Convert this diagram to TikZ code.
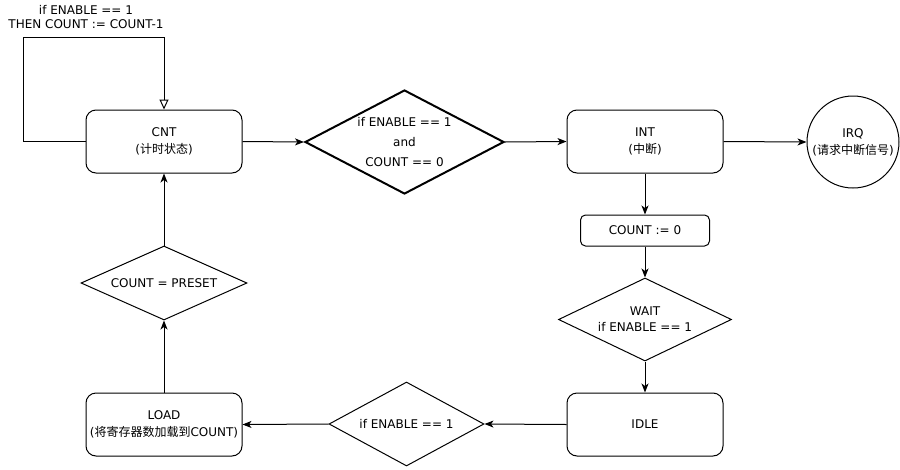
\documentclass[tikz,border=0pt]{standalone}
\usepackage{fontspec}
\setmainfont{DejaVu Sans}
\newfontfamily\cjk{Noto Sans CJK SC}
\usetikzlibrary{shapes.geometric,arrows.meta}
\begin{document}
\begin{tikzpicture}[x=1pt,y=-1pt,
  every node/.style={font=\fontsize{12}{17}\selectfont, text=black},
  state/.style={draw, rounded corners=10pt, minimum width=156pt, minimum height=63pt, align=center, fill=white, line width=1pt},
  cond/.style={draw, diamond, inner sep=0pt, fill=white, line width=1pt},
  flow/.style={draw, line width=1pt, -{Stealth[length=9pt,width=7pt,inset=2.5pt]}},
]
\useasboundingbox[fill=white] (0,0) rectangle (900,469);

% nodes
\node[state] (cnt) at (164,141.5) {CNT\\({\cjk 计时状态})};
\node[cond, line width=2pt, minimum width=199pt, minimum height=104pt,
  label={[align=center, font=\fontsize{12}{20}\selectfont]center:if ENABLE == 1\\and\\COUNT == 0}] (d1) at (404.5,142) {};
\node[state] (int) at (645,141.5) {INT\\({\cjk 中断})};
\node[draw, circle, line width=1pt, minimum size=92pt, inner sep=0pt, align=center, fill=white] (irq) at (853,142) {IRQ\\({\cjk 请求中断信号})};
\node[draw, rounded corners=5pt, minimum width=129pt, minimum height=31pt, line width=1pt, fill=white] (cz) at (645,230.5) {COUNT := 0};
\node[cond, minimum width=173pt, minimum height=83pt,
  label={[align=center, font=\fontsize{12}{16}\selectfont]center:WAIT\\if ENABLE == 1}] (wait) at (645,319.5) {};
\node[state] (idle) at (645,424.5) {IDLE};
\node[cond, minimum width=155pt, minimum height=84pt,
  label={center:if ENABLE == 1}] (d3) at (406.5,424) {};
\node[state] (load) at (164,424.5) {LOAD\\({\cjk 将寄存器数加载到}COUNT)};
\node[cond, minimum width=166pt, minimum height=74pt,
  label={center:COUNT = PRESET}] (preset) at (164,283) {};

\node[align=center, fill=white, inner sep=1pt, font=\fontsize{12}{14}\selectfont] (looplbl) at (86,17) {if ENABLE == 1\\THEN COUNT := COUNT-1};

% connectors
\coordinate (lt) at (23,37);
\coordinate (rt) at (164,37);
\draw[line width=1pt, -{Triangle[open,length=10pt,width=9pt]}] (cnt.west) -| (lt) -- (rt) -- (cnt.north);
\draw[flow] (cnt.east) -- (d1.west);
\draw[flow] (d1.east) -- (int.west);
\draw[flow] (int.east) -- (irq.west);
\draw[flow] (int.south) -- (cz.north);
\draw[flow] (cz.south) -- (wait.north);
\draw[flow] (wait.south) -- (idle.north);
\draw[flow] (idle.west) -- (d3.east);
\draw[flow] (d3.west) -- (load.east);
\draw[flow] (load.north) -- (preset.south);
\draw[flow] (preset.north) -- (cnt.south);
\end{tikzpicture}
\end{document}
